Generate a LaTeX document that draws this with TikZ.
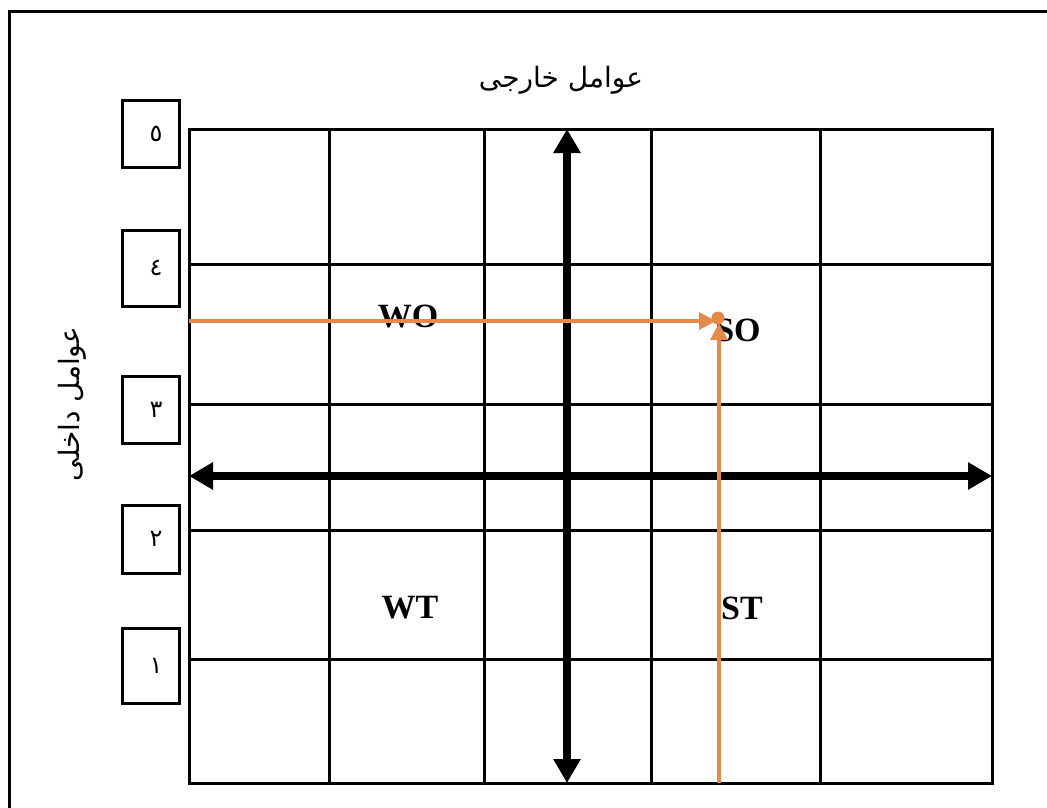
\documentclass[tikz,border=0pt]{standalone}
\usepackage{fontspec}
\setmainfont{Liberation Serif}
\newfontfamily\arabicfont[Script=Arabic]{DejaVu Sans}
\TeXXeTstate=1
\usetikzlibrary{arrows.meta}
\definecolor{orangeline}{RGB}{231,137,72}
\tikzset{
  gridline/.style={line width=3pt, black},
  frameline/.style={line width=3pt, black},
  boldarrow/.style={line width=8pt, black, {Triangle[length=24pt,width=26pt]}-{Triangle[length=24pt,width=26pt]}},
  orangearrow/.style={line width=3.5pt, orangeline, -{Triangle[length=17pt,width=17pt]}},
  numbox/.style={draw, line width=3pt, minimum width=57pt, inner sep=0pt, font=\arabicfont\fontsize{24}{28}\selectfont},
  quadlbl/.style={inner sep=0pt, font=\fontsize{34}{40}\selectfont\bfseries},
  arlbl/.style={inner sep=0pt, font=\arabicfont\fontsize{28}{34}\selectfont}
}
\begin{document}
\begin{tikzpicture}[x=1pt,y=-1pt]
\clip (0,0) rectangle (1047,808);
\fill[white] (0,0) rectangle (1047,808);
% outer frame (right and bottom edges lie outside the picture)
\draw[frameline] (9,12) rectangle (1080,840);
% grid
\draw[gridline] (189,129) rectangle (992,783);
\foreach \x in {329,484,651,820} \draw[gridline] (\x,129) -- (\x,783);
\foreach \y in {264,404,530,659} \draw[gridline] (189,\y) -- (992,\y);
% number boxes
\node[numbox, minimum height=67pt] (b5) at (150.5,133.5) {\hspace*{11pt}٥};
\node[numbox, minimum height=76pt] (b4) at (150.5,268) {\hspace*{11pt}٤};
\node[numbox, minimum height=67pt] (b3) at (150.5,409.5) {\hspace*{11pt}٣};
\node[numbox, minimum height=68pt] (b2) at (150.5,539) {\hspace*{11pt}٢};
\node[numbox, minimum height=75pt] (b1) at (150.5,665.5) {\hspace*{11pt}١};
% axis titles
\node[arlbl] (ext) at (561,80) {\beginR عوامل خارجی\endR};
\node[arlbl, rotate=90] (int) at (72,404) {\beginR عوامل داخلی\endR};
% quadrant labels
\node[quadlbl] (wo) at (408,316) {WO};
\node[quadlbl] (so) at (738,330) {SO};
\node[quadlbl] (wt) at (410,608) {WT};
\node[quadlbl] (st) at (742,608) {ST};
% bold axes
\coordinate (hL) at (189,476);
\coordinate (hR) at (992,476);
\coordinate (vT) at (567,129);
\coordinate (vB) at (567,783);
\draw[boldarrow] (hL) -- (hR);
\draw[boldarrow] (vT) -- (vB);
% orange arrows
\coordinate (oL) at (189,321);
\coordinate (oH) at (716,321);
\coordinate (oB) at (719,783);
\coordinate (oV) at (719,323);
\coordinate (oP) at (718,318);
\draw[orangearrow] (oL) -- (oH);
\draw[orangearrow] (oB) -- (oV);
\fill[orangeline] (oP) circle (6.5pt);
\end{tikzpicture}
\end{document}
